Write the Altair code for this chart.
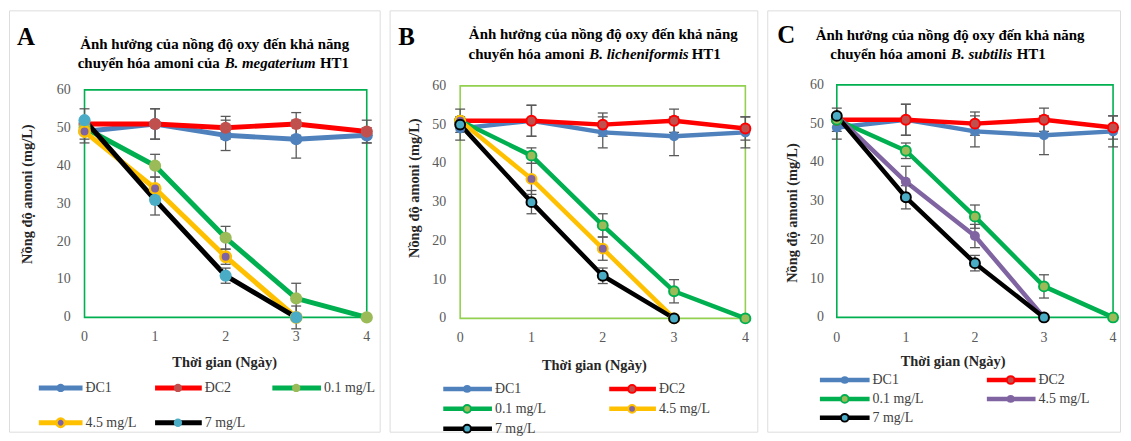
import altair as alt
import pandas as pd

# ---------------- data ----------------
days = [0, 1, 2, 3, 4]
series_names = ["ĐC1", "ĐC2", "0.1 mg/L", "4.5 mg/L", "7 mg/L"]
y_ticks = [0, 10, 20, 30, 40, 50, 60]
x_ticks = [0, 1, 2, 3, 4]

# Panel A - B. megaterium
a_dc1 = [49, 51, 48, 47, 48]
a_dc1_err = [3, 4, 4, 5, 2]
a_dc2 = [51, 51, 50, 51, 49]
a_dc2_err = [4, 4, 3, 3, 3]
a_o01 = [50, 40, 21, 5, 0]
a_o01_err = [0, 3, 3, 4, 0]
a_o45 = [49, 34, 16, 0]
a_o45_err = [0, 3, 2, 0]
a_o7 = [52, 31, 11, 0]
a_o7_err = [0, 4, 2, 3]

# Panel B - B. licheniformis
b_dc1 = [49, 51, 48, 47, 48]
b_dc1_err = [3, 4, 4, 5, 4]
b_dc2 = [51, 51, 50, 51, 49]
b_dc2_err = [3, 4, 3, 3, 3]
b_o01 = [51, 42, 24, 7, 0]
b_o01_err = [0, 2, 3, 3, 0]
b_o45 = [51, 36, 18, 0]
b_o45_err = [0, 4, 3, 0]
b_o7 = [50, 30, 11, 0]
b_o7_err = [0, 3, 2, 0]

# Panel C - B. subtilis
c_dc1 = [49, 51, 48, 47, 48]
c_dc1_err = [3, 4, 4, 5, 4]
c_dc2 = [51, 51, 50, 51, 49]
c_dc2_err = [3, 4, 3, 3, 3]
c_o01 = [51, 43, 26, 8, 0]
c_o01_err = [0, 2, 3, 3, 0]
c_o45 = [52, 35, 21, 0]
c_o45_err = [0, 4, 3, 0]
c_o7 = [52, 31, 14, 0]
c_o7_err = [0, 3, 2, 0]

title_line1 = "Ảnh hưởng của nồng độ oxy đến khả năng"
x_title = "Thời gian (Ngày)"
y_title = "Nồng độ amoni (mg/L)"

FONT = "Liberation Serif"
ERR_COLOR = "#595959"


def panel(letter, t2_parts, vals, errs, style, lay):
    xs = alt.Scale(domain=[x_ticks[0], x_ticks[-1]], range=[lay["x0"], lay["x1"]])
    ys = alt.Scale(domain=[y_ticks[0], y_ticks[-1]], range=[lay["y0"], lay["y60"]])
    X = lambda f: alt.X(f, scale=xs, axis=None)
    Y = lambda f: alt.Y(f, scale=ys, axis=None)
    layers = []

    frame_df = pd.DataFrame({"xa": [x_ticks[0]], "xb": [x_ticks[-1]],
                             "ya": [y_ticks[0]], "yb": [y_ticks[-1]]})
    layers.append(alt.Chart(frame_df).mark_rect(fill="white", fillOpacity=0,
                                                stroke=lay["frame"], strokeWidth=1.6)
                  .encode(x=X("xa:Q"), x2="xb:Q", y=Y("ya:Q"), y2="yb:Q"))

    dfs = []
    for v, e in zip(vals, errs):
        d = pd.DataFrame({"day": days[:len(v)], "val": v, "err": e})
        d["lo"] = d["val"] - d["err"]
        d["hi"] = d["val"] + d["err"]
        dfs.append(d)

    for i, d in enumerate(dfs):
        layers.append(alt.Chart(d).mark_line(color=style["line"][i], strokeWidth=lay["lw"],
                                             strokeJoin="round", strokeCap="round")
                      .encode(x=X("day:Q"), y=Y("val:Q")))
    for i, d in enumerate(dfs):
        de = d[d["err"] > 0]
        if len(de) == 0:
            continue
        layers.append(alt.Chart(de).mark_rule(color=ERR_COLOR, strokeWidth=1.3)
                      .encode(x=X("day:Q"), y=Y("lo:Q"), y2="hi:Q"))
        for f in ["lo:Q", "hi:Q"]:
            layers.append(alt.Chart(de).mark_rule(color=ERR_COLOR, strokeWidth=1.3,
                                                  xOffset=-5, x2Offset=5)
                          .encode(x=X("day:Q"), x2="day:Q", y=Y(f)))
    for i, d in enumerate(dfs):
        layers.append(alt.Chart(d).mark_point(shape="circle", filled=True, opacity=1,
                                              size=style["msize"][i], fill=style["fill"][i],
                                              stroke=style["stroke"][i],
                                              strokeWidth=style["sw"][i])
                      .encode(x=X("day:Q"), y=Y("val:Q")))

    # tick labels
    yt = pd.DataFrame({"t": y_ticks, "lab": [str(t) for t in y_ticks]})
    layers.append(alt.Chart(yt).mark_text(align="right", baseline="middle", font=FONT,
                                          fontSize=14, color="#595959")
                  .encode(x=alt.value(lay["ylab_x"]), y=Y("t:Q"), text="lab:N"))
    xt = pd.DataFrame({"t": x_ticks, "lab": [str(t) for t in x_ticks]})
    layers.append(alt.Chart(xt).mark_text(align="center", baseline="middle", font=FONT,
                                          fontSize=14, color="#595959")
                  .encode(x=X("t:Q"), y=alt.value(lay["xlab_y"]), text="lab:N"))

    def txt(s, x, y, **kw):
        base = dict(font=FONT, fontSize=14, fontWeight="bold", color="#262626",
                    baseline="middle", align="center")
        base.update(kw)
        return (alt.Chart(pd.DataFrame({"s": [s]})).mark_text(**base)
                .encode(x=alt.value(x), y=alt.value(y), text="s:N"))

    layers.append(txt(y_title, lay["ytitle"][0], lay["ytitle"][1], angle=270, fontSize=14.5))
    layers.append(txt(x_title, lay["xtitle"][0], lay["xtitle"][1], fontSize=14.5))
    layers.append(txt(letter, lay["letter"][0], lay["letter"][1], fontSize=25, color="#000000"))
    layers.append(txt(title_line1, lay["t1"][0], lay["t1"][1], fontSize=15, color="#000000"))
    layers.append(txt(t2_parts[0], lay["t2x"][0], lay["t2y"], fontSize=15, color="#000000",
                      align="right"))
    layers.append(txt(t2_parts[1], lay["t2x"][1], lay["t2y"], fontSize=15, color="#000000",
                      align="left", fontStyle="italic"))
    layers.append(txt(t2_parts[2], lay["t2x"][2], lay["t2y"], fontSize=15, color="#000000",
                      align="left"))

    # legend
    nc = len(lay["leg_cols"])
    for i, name in enumerate(series_names):
        r, c = divmod(i, nc)
        ly = lay["leg_rows"][r]
        la, lb, lm, lt = lay["leg_cols"][c]
        one = pd.DataFrame({"s": [name]})
        layers.append(alt.Chart(one).mark_rule(color=style["line"][i], strokeWidth=lay["lw"])
                      .encode(x=alt.value(la), x2=alt.value(lb), y=alt.value(ly)))
        layers.append(alt.Chart(one).mark_point(shape="circle", filled=True, opacity=1,
                                                size=lay["legsize"], fill=style["fill"][i],
                                                stroke=style["stroke"][i],
                                                strokeWidth=style["sw"][i])
                      .encode(x=alt.value(lm), y=alt.value(ly)))
        layers.append(alt.Chart(one).mark_text(align="left", baseline="middle", font=FONT,
                                               fontSize=14, color="#404040")
                      .encode(x=alt.value(lt), y=alt.value(ly), text="s:N"))

    return alt.layer(*layers).properties(width=lay["W"], height=424)


style_a = dict(line=["#4F81BD", "#FF0000", "#00B050", "#FFC000", "#000000"],
               fill=["#4F81BD", "#C0504D", "#9BBB59", "#8064A2", "#4BACC6"],
               stroke=["#4F81BD", "#C0504D", "#9BBB59", "#FFC000", "#4BACC6"],
               sw=[0, 0, 0, 2.5, 0],
               msize=[150, 150, 150, 110, 150])
style_b = dict(line=["#4F81BD", "#FF0000", "#00B050", "#FFC000", "#000000"],
               fill=["#4F81BD", "#C0504D", "#9BBB59", "#8064A2", "#4BACC6"],
               stroke=["#4F81BD", "#FF0000", "#00B050", "#FFC000", "#000000"],
               sw=[0, 2, 2, 2, 2],
               msize=[100, 100, 100, 100, 100])
style_c = dict(line=["#4F81BD", "#FF0000", "#00B050", "#8064A2", "#000000"],
               fill=["#4F81BD", "#C0504D", "#9BBB59", "#8064A2", "#4BACC6"],
               stroke=["#4F81BD", "#FF0000", "#00B050", "#8064A2", "#000000"],
               sw=[0, 2, 2, 0, 2],
               msize=[100, 100, 100, 100, 100])

lay_a = dict(W=373, x0=76, x1=360, y0=309, y60=80, ylab_x=62, xlab_y=329,
             ytitle=(19, 185), xtitle=(217, 355), letter=(17, 27), t1=(207, 34),
             t2y=53, t2x=(212, 217, 313),
             leg_rows=[380, 415],
             leg_cols=[(30, 74, 52, 77), (147, 194, 170, 197), (265, 314, 289, 317)],
             lw=5, legsize=70, frame="#00B050")
lay_b = dict(W=370, x0=71, x1=358, y0=310, y60=76, ylab_x=57, xlab_y=330,
             ytitle=(26, 179), xtitle=(206, 358), letter=(17, 27), t1=(215, 24),
             t2y=44, t2x=(196, 201, 304),
             leg_rows=[381, 401, 421],
             leg_cols=[(54, 103, 78, 106), (221, 268, 244, 271)],
             lw=4.5, legsize=60, frame="#92D050")
lay_c = dict(W=355, x0=70, x1=348, y0=309, y60=75, ylab_x=57, xlab_y=330,
             ytitle=(26, 204), xtitle=(187, 354), letter=(19, 25), t1=(184, 25),
             t2y=44, t2x=(180, 185, 251),
             leg_rows=[372, 391, 410],
             leg_cols=[(53, 103, 78, 106), (221, 270, 245, 273)],
             lw=4.5, legsize=60, frame="#00B050")

pa = panel("A", ["chuyển hóa amoni của", "B. megaterium", "HT1"],
           [a_dc1, a_dc2, a_o01, a_o45, a_o7],
           [a_dc1_err, a_dc2_err, a_o01_err, a_o45_err, a_o7_err], style_a, lay_a)
pb = panel("B", ["chuyển hóa amoni", "B. licheniformis", "HT1"],
           [b_dc1, b_dc2, b_o01, b_o45, b_o7],
           [b_dc1_err, b_dc2_err, b_o01_err, b_o45_err, b_o7_err], style_b, lay_b)
pc = panel("C", ["chuyển hóa amoni", "B. subtilis", "HT1"],
           [c_dc1, c_dc2, c_o01, c_o45, c_o7],
           [c_dc1_err, c_dc2_err, c_o01_err, c_o45_err, c_o7_err], style_c, lay_c)

chart = (alt.hconcat(pa, pb, pc, spacing=8)
         .properties(padding=0)
         .configure_view(stroke="#D9D9D9", strokeWidth=1.5)
         .configure(background="white"))

chart.save("out.html", embed_options={"renderer": "svg", "actions": False})
